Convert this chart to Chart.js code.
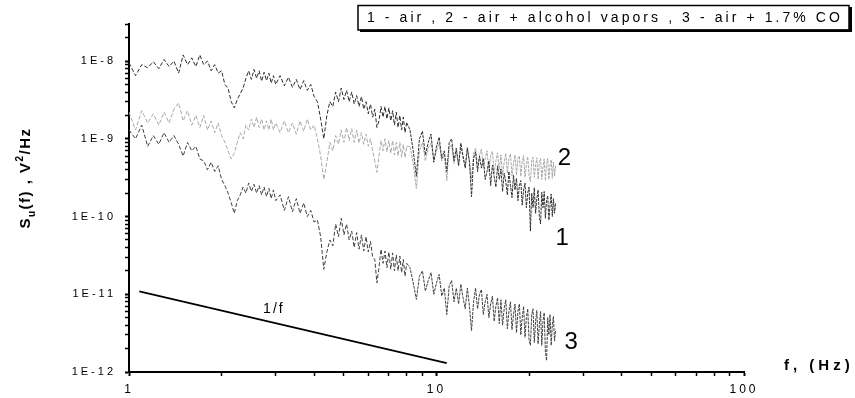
<!DOCTYPE html>
<html>
<head>
<meta charset="utf-8">
<title>Noise spectra S_u(f)</title>
<script src="https://cdn.jsdelivr.net/npm/chart.js@4.4.1/dist/chart.umd.min.js"></script>
<style>
  html, body { margin: 0; padding: 0; background: #fff; }
  #wrap { width: 855px; height: 398px; position: relative; }
</style>
</head>
<body>
<div id="wrap"><canvas id="noiseChart"></canvas></div>
<script>
  const FONT = '"Liberation Sans", Arial, sans-serif';

  // frequency grid, Hz
  const freqLow = [1.00, 1.05, 1.10, 1.15, 1.20, 1.25, 1.30, 1.35, 1.40, 1.45,
    1.50, 1.55, 1.60, 1.65, 1.70, 1.75, 1.80, 1.85, 1.90, 1.95,
    2.00, 2.05, 2.10, 2.15, 2.20, 2.25, 2.30, 2.35, 2.40, 2.45,
    2.50, 2.55, 2.60, 2.65, 2.70, 2.75, 2.80, 2.85, 2.90, 2.95,
    3.00];
  const freqMid = [3.1, 3.2, 3.3, 3.4, 3.5, 3.6, 3.7, 3.8, 3.9, 4.0,
    4.1, 4.2, 4.3, 4.4, 4.5, 4.6, 4.7, 4.8, 4.9, 5.0,
    5.1, 5.2, 5.3, 5.4, 5.5, 5.6, 5.7, 5.8, 5.9, 6.0,
    6.1, 6.2, 6.3, 6.4, 6.5, 6.6, 6.7, 6.8, 6.9, 7.0,
    7.1, 7.2, 7.3, 7.4, 7.5, 7.6, 7.7, 7.8, 7.9, 8.0];
  const freqHigh = [8.2, 8.4, 8.6, 8.8, 9.0, 9.2, 9.4, 9.6, 9.8, 10.0,
    10.2, 10.4, 10.6, 10.8, 11.0, 11.2, 11.4, 11.6, 11.8, 12.0,
    12.2, 12.4, 12.6, 12.8, 13.0, 13.2, 13.4, 13.6, 13.8, 14.0,
    14.2, 14.4, 14.6, 14.8, 15.0, 15.2, 15.4, 15.6, 15.8, 16.0,
    16.2, 16.4, 16.6, 16.8, 17.0, 17.2, 17.4, 17.6, 17.8, 18.0,
    18.2, 18.4, 18.6, 18.8, 19.0, 19.2, 19.4, 19.6, 19.8, 20.0,
    20.2, 20.4, 20.6, 20.8, 21.0, 21.2, 21.4, 21.6, 21.8, 22.0,
    22.2, 22.4, 22.6, 22.8, 23.0, 23.2, 23.4, 23.6, 23.8, 24.0,
    24.2, 24.4];
  const freq = [...freqLow, ...freqMid, ...freqHigh];

  // spectra in units of 1e-12 V^2/Hz
  const UNIT = 1e-12;
  const air = [
    9500, 6500, 9000, 8200, 9800, 8000, 10500, 8500, 10000, 7000,
    12000, 9000, 11000, 8500, 12000, 9000, 10000, 7500, 9000, 7000,
    7500, 5000, 4500, 3000, 2500, 3200, 3800, 4500, 6000, 7500,
    5800, 7800, 6000, 7500, 5500, 7200, 5600, 7000, 5200, 6500,
    5000,
    6500, 4800, 6200, 4600, 5800, 4300, 5600, 4200, 5000, 3500,
    3000, 1800, 1000, 2000, 3000, 2600, 4000, 3000, 4500, 3200,
    4200, 3000, 4000, 2800, 3600, 2600, 3500, 2400, 3000, 2100,
    2800, 1900, 2400, 1400, 1700, 2600, 1900, 2600, 1800, 2500,
    1700, 2300, 1500, 2200, 1400, 2000, 1300, 1900, 1200, 1600,
    1300, 700, 330, 1000, 1250, 620, 900, 1150, 500, 800,
    1050, 560, 700, 380, 900, 1000, 520, 760, 450, 880,
    600, 420, 760, 500, 180, 560, 680, 380, 600, 420,
    560, 300, 380, 520, 250, 460, 330, 240, 450, 300,
    410, 210, 360, 280, 190, 380, 250, 175, 340, 220,
    310, 160, 250, 290, 140, 220, 270, 130, 200, 240,
    65, 200, 130, 235, 110, 170, 220, 100, 80, 205,
    130, 210, 95, 160, 185, 90, 140, 195, 100, 170,
    110, 150];
  const airAlcohol = [
    2200, 1300, 2300, 1600, 2100, 1500, 2200, 1600, 2400, 2900,
    1700, 2300, 1500, 2000, 1400, 2000, 1300, 1700, 1200, 1600,
    1100, 900, 700, 550, 650, 900, 1200, 1000, 1500, 1300,
    1800, 1400, 1900, 1400, 1800, 1300, 1700, 1300, 1800, 1300,
    1600,
    1200, 1700, 1200, 1600, 1150, 1700, 1250, 1800, 1300, 1500,
    1000, 600, 300, 500, 900, 700, 1100, 850, 1300, 900,
    1400, 950, 1350, 900, 1300, 880, 1200, 850, 1150, 800,
    1000, 700, 520, 370, 600, 950, 700, 1000, 680, 950,
    650, 950, 620, 900, 600, 900, 580, 850, 570, 800,
    800, 480, 230, 700, 900, 520, 760, 880, 540, 700,
    880, 520, 620, 290, 780, 840, 480, 700, 460, 820,
    560, 440, 780, 520, 300, 650, 760, 430, 620, 740,
    420, 560, 700, 380, 600, 690, 360, 520, 660, 400,
    620, 340, 500, 650, 360, 560, 640, 330, 480, 620,
    340, 560, 600, 330, 500, 610, 320, 460, 590, 340,
    280, 520, 580, 320, 460, 570, 300, 500, 560, 300,
    430, 550, 290, 480, 560, 300, 450, 540, 310, 500,
    330, 450];
  const airCO = [
    1300, 1000, 1500, 800, 1100, 850, 1200, 900, 1100, 850,
    600, 900, 700, 800, 550, 520, 400, 500, 380, 450,
    300, 250, 200, 150, 110, 160, 190, 240, 200, 270,
    210, 260, 200, 250, 190, 240, 180, 230, 170, 220,
    160,
    190, 120, 180, 115, 170, 110, 150, 100, 120, 85,
    90, 55, 21, 35, 50, 42, 80, 55, 95, 58,
    80, 50, 65, 40, 62, 38, 58, 36, 55, 35,
    48, 30, 28, 14, 22, 38, 25, 36, 22, 35,
    21, 34, 20, 32, 20, 31, 19, 28, 17, 25,
    22, 14, 8.6, 17, 20, 11, 15, 19, 10, 14,
    18, 9.5, 12, 5.5, 13, 15, 8, 12, 7.5, 13.5,
    9, 6.5, 12, 7, 3.4, 8, 12, 6.5, 10, 11.5,
    5.5, 8, 10, 5, 7.5, 9.5, 4.5, 7, 9, 4.2,
    8.5, 4, 6.5, 8.5, 3.6, 6, 8, 3.5, 5.5, 7.5,
    3.2, 6, 7.5, 3, 5, 7, 2.8, 5, 6.5, 2.6,
    2.2, 5.5, 6.5, 2.4, 4.5, 6.2, 2.3, 4, 6, 2.2,
    4.5, 5.8, 1.8, 1.4, 5, 3, 5.5, 2.2, 4, 5.2,
    2.5, 3.5];

  // 1/f guide line
  const guideF = [1.08, 10.8];
  const guideS = [1.09e-11, 1.3e-12];

  // ticks
  const mantissas = [1, 2, 3, 4, 5, 6, 7, 8, 9];
  const xDecades = [1, 10];
  const xMajor = [1, 10, 100];
  const xLabels = ['1', '10', '100'];
  const yDecades = [1e-12, 1e-11, 1e-10, 1e-9, 1e-8];
  const yLabels = ['1E-12', '1E-11', '1E-10', '1E-9', '1E-8'];
  const yMax = 3e-8;

  const legendText = '1 - air , 2 - air + alcohol vapors , 3 - air + 1.7% CO';
  const curveLabels = [
    { text: '2', f: 24.8, s: 4.6e-10 },
    { text: '1', f: 24.4, s: 4.3e-11 },
    { text: '3', f: 26.1, s: 2.0e-12 }
  ];
  const slopeLabel = { text: '1/f', f: 2.73, s: 5.7e-12 };

  const xTickValues = [];
  xDecades.forEach(d => mantissas.forEach(m => xTickValues.push(m * d)));
  xTickValues.push(100);
  const yTickValues = [];
  yDecades.forEach(d => mantissas.forEach(m => {
    const v = m * d;
    if (v <= yMax * 1.0001) yTickValues.push(v);
  }));

  function findLabel(value, majors, labels) {
    for (let i = 0; i < majors.length; i++) {
      if (Math.abs(value - majors[i]) / majors[i] < 1e-6) return labels[i];
    }
    return '';
  }

  function toPoints(values) {
    return freq.map((f, i) => ({ x: f, y: values[i] * UNIT }));
  }

  const textPlugin = {
    id: 'textPlugin',
    beforeDraw(chart) {
      chart.ctx.letterSpacing = '3px';
    },
    afterDraw(chart) {
      const ctx = chart.ctx;
      const xs = chart.scales.x;
      const ys = chart.scales.y;
      ctx.save();
      ctx.fillStyle = '#000';
      ctx.strokeStyle = '#000';
      ctx.textBaseline = 'alphabetic';
      ctx.textAlign = 'left';

      // legend box
      ctx.font = `14px ${FONT}`;
      ctx.letterSpacing = '0px';
      const w0 = ctx.measureText(legendText).width;
      const ls = (473 - w0) / (legendText.length - 1);
      ctx.letterSpacing = ls.toFixed(2) + 'px';
      ctx.fillText(legendText, 367, 22);
      ctx.lineWidth = 1.5;
      ctx.strokeRect(358, 5.5, 491, 24.5);
      ctx.fillRect(849, 7, 3, 25);
      ctx.fillRect(360, 29.5, 492, 2.5);

      // curve numbers
      ctx.font = `24px ${FONT}`;
      ctx.letterSpacing = '0px';
      curveLabels.forEach(l => {
        ctx.fillText(l.text, xs.getPixelForValue(l.f), ys.getPixelForValue(l.s));
      });

      // 1/f
      ctx.font = `14px ${FONT}`;
      ctx.letterSpacing = '2px';
      ctx.fillText(slopeLabel.text, xs.getPixelForValue(slopeLabel.f), ys.getPixelForValue(slopeLabel.s));

      // x title
      ctx.font = `bold 15px ${FONT}`;
      ctx.letterSpacing = '4px';
      ctx.fillText('f, (Hz)', 784, 370);

      // y title with sub/superscript
      const parts = [
        { t: 'S', size: 15, dy: 0 },
        { t: 'u', size: 10, dy: 5 },
        { t: '(f) , V', size: 15, dy: 0 },
        { t: '2', size: 10, dy: -7 },
        { t: '/Hz', size: 15, dy: 0 }
      ];
      ctx.translate(30, 178);
      ctx.rotate(-Math.PI / 2);
      ctx.letterSpacing = '1.5px';
      let total = 0;
      parts.forEach(p => {
        ctx.font = `bold ${p.size}px ${FONT}`;
        p.w = ctx.measureText(p.t).width;
        total += p.w;
      });
      let x = -total / 2;
      parts.forEach(p => {
        ctx.font = `bold ${p.size}px ${FONT}`;
        ctx.fillText(p.t, x, p.dy);
        x += p.w;
      });
      ctx.restore();
    }
  };

  // longer dashes where points are sparse, short ones in the dense band
  const series = (label, values, color) => ({
    label,
    data: toPoints(values),
    borderColor: color,
    borderWidth: 1,
    borderDash: [4, 2],
    segment: {
      borderDash: c => (c.p0.parsed.x >= 8 ? [3, 1] : [4, 2])
    },
    pointRadius: 0,
    tension: 0,
    fill: false
  });

  new Chart(document.getElementById('noiseChart'), {
    type: 'line',
    data: {
      datasets: [
        {
          label: '1/f',
          data: guideF.map((f, i) => ({ x: f, y: guideS[i] })),
          borderColor: '#000',
          borderWidth: 1.6,
          pointRadius: 0,
          fill: false
        },
        series('1 - air', air, '#2e2e2e'),
        series('3 - air + 1.7% CO', airCO, '#404040'),
        series('2 - air + alcohol vapors', airAlcohol, '#a8a8a8')
      ]
    },
    options: {
      responsive: true,
      maintainAspectRatio: false,
      animation: false,
      layout: { padding: { left: 0, right: 111, top: 24, bottom: 0 } },
      plugins: {
        legend: { display: false },
        tooltip: { enabled: false },
        title: { display: false }
      },
      scales: {
        x: {
          type: 'logarithmic',
          min: 1,
          max: 100,
          afterBuildTicks: s => { s.ticks = xTickValues.map(v => ({ value: v })); },
          afterFit: s => { s.height = 26; },
          border: { display: true, color: '#000', width: 2 },
          grid: {
            display: true, drawOnChartArea: false, drawTicks: true,
            tickLength: 4, tickColor: '#000',
            tickWidth: c => (findLabel(c.tick.value, xMajor, xLabels) ? 2 : 1.5)
          },
          ticks: {
            autoSkip: false, maxRotation: 0, padding: 6, color: '#000',
            font: { family: FONT, size: 12 },
            callback: v => findLabel(v, xMajor, xLabels)
          }
        },
        y: {
          type: 'logarithmic',
          min: 1e-12,
          max: yMax,
          afterBuildTicks: s => { s.ticks = yTickValues.map(v => ({ value: v })); },
          afterFit: s => { s.width = 129; },
          border: { display: true, color: '#000', width: 2 },
          grid: {
            display: true, drawOnChartArea: false, drawTicks: true,
            tickLength: 4, tickColor: '#000',
            tickWidth: c => (findLabel(c.tick.value, yDecades, yLabels) ? 2 : 1.5)
          },
          ticks: {
            autoSkip: false, padding: 9, color: '#000',
            font: { family: FONT, size: 11 },
            callback: v => findLabel(v, yDecades, yLabels)
          }
        }
      }
    },
    plugins: [textPlugin]
  });
</script>
</body>
</html>
